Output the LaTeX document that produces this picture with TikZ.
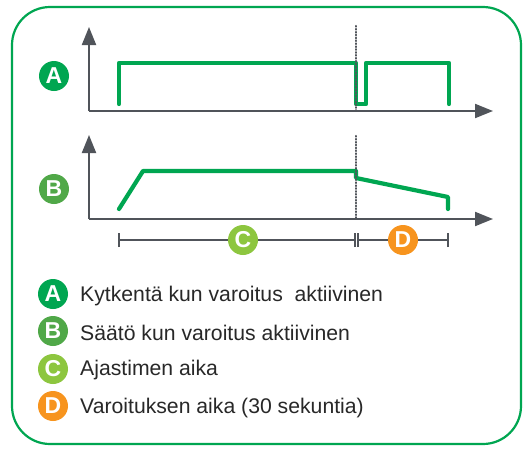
\documentclass[tikz,border=0pt]{standalone}
\usepackage{fontspec}
\setmainfont{Liberation Sans}
\usetikzlibrary{arrows.meta}
\definecolor{frameg}{RGB}{0,166,81}
\definecolor{sigg}{RGB}{0,166,81}
\definecolor{ag}{RGB}{0,166,81}
\definecolor{bg}{RGB}{80,168,72}
\definecolor{cg}{RGB}{141,198,63}
\definecolor{dor}{RGB}{247,148,30}
\definecolor{axisg}{RGB}{80,84,90}
\definecolor{txt}{RGB}{40,40,40}
\tikzset{
  axis/.style={draw=axisg, line width=2pt, -{Triangle[length=18pt,width=14pt]}},
  sig/.style={draw=sigg, line width=4.2pt, line cap=round, line join=round},
  marker/.style={draw=axisg, line width=2.1pt, line cap=round, dash pattern=on 0.7pt off 2.2pt},
  badge/.style={circle, minimum size=30pt, inner sep=0pt, text=white, font=\bfseries\fontsize{23}{23}\selectfont},
  tl/.style={draw=axisg, line width=2pt},
  legtext/.style={anchor=west, text=txt, font=\fontsize{21.2}{21}\selectfont, inner sep=0pt}
}
\begin{document}
\begin{tikzpicture}[x=1pt,y=-1pt]
\useasboundingbox (0,0) rectangle (528,448);
\fill[white] (0,0) rectangle (528,448);
\draw[frameg, line width=2.2pt, rounded corners=38pt] (12,7) rectangle (521,444);
% axes A
\coordinate (oA) at (89,111);
\coordinate (yA) at (89,27);
\coordinate (xA) at (493,111);
\draw[axis] (oA) -- (yA);
\draw[axis] (oA) -- (xA);
% axes B
\coordinate (oB) at (89,219);
\coordinate (yB) at (89,135);
\coordinate (xB) at (493,219);
\draw[axis] (oB) -- (yB);
\draw[axis] (oB) -- (xB);
% dotted markers
\coordinate (m1t) at (356,26);
\coordinate (m1b) at (356,112);
\coordinate (m2t) at (356,136);
\coordinate (m2b) at (356,220);
% signal A
\draw[sig] (119,104) -- (119,63) -- (356,63) -- (356,104) -- (366,104) -- (366,63) -- (449,63) -- (449,104);
% signal B
\draw[sig] (119,209) -- (143,171) -- (356,171) -- (356,178) -- (448,197) -- (448,209);
\draw[marker] (m1t) -- (m1b);
\draw[marker] (m2t) -- (m2b);
% badges A, B
\node[badge, fill=ag] (bA) at (54,76) {A};
\node[badge, fill=bg] (bB) at (54,189) {B};
% timeline
\node[badge, fill=cg] (tC) at (243,240) {C};
\node[badge, fill=dor] (tD) at (403,240) {D};
\coordinate (t0) at (119,240);
\coordinate (t1a) at (354.5,240);
\coordinate (t1b) at (357.5,240);
\coordinate (t2) at (448,240);
\draw[tl] (t0) -- (tC.west);
\draw[tl] (tC.east) -- (t1a);
\draw[tl] (t1b) -- (tD.west);
\draw[tl] (tD.east) -- (t2);
\draw[tl] ([yshift=-7pt]t0) -- ([yshift=7pt]t0);
\draw[tl] ([yshift=-7pt]t1a) -- ([yshift=7pt]t1a);
\draw[tl] ([yshift=-7pt]t1b) -- ([yshift=7pt]t1b);
\draw[tl] ([yshift=-7pt]t2) -- ([yshift=7pt]t2);
% legend
\node[badge, fill=ag] (lA) at (53,294) {A};
\node[badge, fill=bg] (lB) at (53,331) {B};
\node[badge, fill=cg] (lC) at (53,369) {C};
\node[badge, fill=dor] (lD) at (53,406) {D};
\node[legtext] (tA) at (80,296) {Kytkentä kun varoitus\ \ aktiivinen};
\node[legtext] (tB) at (80,333) {Säätö kun varoitus aktiivinen};
\node[legtext] (tCC) at (80,370) {Ajastimen aika};
\node[legtext] (tDD) at (80,408) {Varoituksen aika (30 sekuntia)};
\end{tikzpicture}
\end{document}
